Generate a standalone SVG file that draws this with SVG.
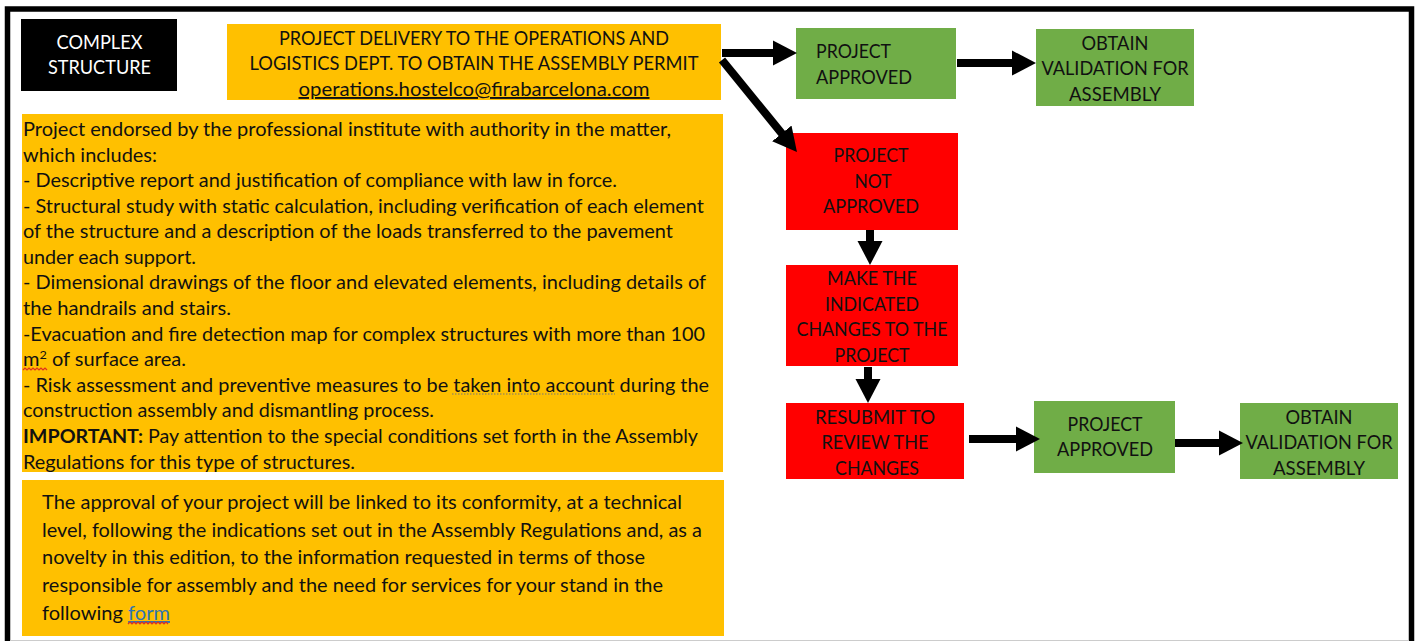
<svg xmlns="http://www.w3.org/2000/svg" width="1419" height="641" viewBox="0 0 1419 641">
<style>
text{font-family:Lato,"Liberation Sans",sans-serif;font-size:19px;fill:#111}
.c{text-anchor:middle}
.w{fill:#fff}
.o{fill:#ffc000}
.g{fill:#70ad47}
.r{fill:#ff0000}
.a{stroke:#000;stroke-width:8;fill:none;marker-end:url(#h)}
.sq{fill:none;stroke:#e03020;stroke-width:1.2}
.dot{fill:none;stroke:#777;stroke-width:1.2;stroke-dasharray:1.5 1.5}
</style>
<defs>
<marker id="h" markerUnits="userSpaceOnUse" markerWidth="26" markerHeight="26" refX="6" refY="13" orient="auto">
<path d="M0 0.500L24 13L0 25.500Z" fill="#000"/>
</marker>
</defs>
<rect width="1419" height="641" fill="#fff"/>
<rect x="7.500" y="9" width="1404" height="640" fill="none" stroke="#000" stroke-width="5.500"/>
<line x1="10" y1="640.500" x2="1409" y2="640.500" stroke="#ccc"/>
<g id="complex-structure"><rect x="21" y="19" width="156" height="72" fill="#000"/>
<text class="c w" x="99.500" y="49" textLength="86" lengthAdjust="spacingAndGlyphs">COMPLEX</text>
<text class="c w" x="99.500" y="74" textLength="103" lengthAdjust="spacingAndGlyphs">STRUCTURE</text></g>
<g id="delivery"><rect class="o" x="227" y="24" width="494" height="76"/>
<text class="c" x="474" y="45" textLength="390" lengthAdjust="spacingAndGlyphs">PROJECT DELIVERY TO THE OPERATIONS AND</text>
<text class="c" x="474" y="70" textLength="449" lengthAdjust="spacingAndGlyphs">LOGISTICS DEPT. TO OBTAIN THE ASSEMBLY PERMIT</text>
<text class="c" x="474" y="96" textLength="351" lengthAdjust="spacingAndGlyphs" text-decoration="underline">operations.hostelco@firabarcelona.com</text></g>
<g id="requirements"><rect class="o" x="22" y="114" width="701" height="358"/>
<text x="23" y="136" textLength="648" lengthAdjust="spacingAndGlyphs">Project endorsed by the professional institute with authority in the matter,</text>
<text x="23" y="162" textLength="134" lengthAdjust="spacingAndGlyphs">which includes:</text>
<text x="23" y="187" textLength="594" lengthAdjust="spacingAndGlyphs">- Descriptive report and justification of compliance with law in force.</text>
<text x="23" y="213" textLength="681" lengthAdjust="spacingAndGlyphs">- Structural study with static calculation, including verification of each element</text>
<text x="23" y="238" textLength="650" lengthAdjust="spacingAndGlyphs">of the structure and a description of the loads transferred to the pavement</text>
<text x="23" y="264" textLength="173" lengthAdjust="spacingAndGlyphs">under each support.</text>
<text x="23" y="289" textLength="683" lengthAdjust="spacingAndGlyphs">- Dimensional drawings of the floor and elevated elements, including details of</text>
<text x="23" y="315" textLength="208" lengthAdjust="spacingAndGlyphs">the handrails and stairs.</text>
<text x="23" y="341" textLength="682" lengthAdjust="spacingAndGlyphs">-Evacuation and fire detection map for complex structures with more than 100</text>
<text x="23" y="366" textLength="163" lengthAdjust="spacingAndGlyphs">m<tspan font-size="12" dy="-7">2</tspan><tspan dy="7"> of surface area.</tspan></text>
<text x="23" y="392" textLength="686" lengthAdjust="spacingAndGlyphs">- Risk assessment and preventive measures to be taken into account during the</text>
<text x="23" y="417" textLength="411" lengthAdjust="spacingAndGlyphs">construction assembly and dismantling process.</text>
<text x="23" y="443" textLength="675" lengthAdjust="spacingAndGlyphs"><tspan font-weight="700">IMPORTANT:</tspan> Pay attention to the special conditions set forth in the Assembly</text>
<text x="23" y="469" textLength="332" lengthAdjust="spacingAndGlyphs">Regulations for this type of structures.</text>
<path class="sq" d="M23 370l2-2 2 2 2-2 2 2 2-2 2 2 2-2 2 2 2-2 2 2 2-2 2 2"/>
<path class="dot" d="M452 394H615"/></g>
<g id="conformity"><rect class="o" x="22" y="480" width="702" height="156"/>
<text x="42" y="509" textLength="640" lengthAdjust="spacingAndGlyphs">The approval of your project will be linked to its conformity, at a technical</text>
<text x="42" y="537" textLength="660" lengthAdjust="spacingAndGlyphs">level, following the indications set out in the Assembly Regulations and, as a</text>
<text x="42" y="564" textLength="603" lengthAdjust="spacingAndGlyphs">novelty in this edition, to the information requested in terms of those</text>
<text x="42" y="592" textLength="621" lengthAdjust="spacingAndGlyphs">responsible for assembly and the need for services for your stand in the</text>
<text x="42" y="620" textLength="128" lengthAdjust="spacingAndGlyphs">following <tspan fill="#2e74b5" text-decoration="underline">form</tspan></text>
<path class="sq" d="M128 624l2-2 2 2 2-2 2 2 2-2 2 2 2-2 2 2 2-2 2 2 2-2 2 2 2-2 2 2 2-2 2 2 2-2 2 2 2-2 2 2"/></g>
<g id="approved-1"><rect class="g" x="796" y="28" width="160" height="71"/>
<text x="816" y="58" textLength="75" lengthAdjust="spacingAndGlyphs">PROJECT</text>
<text x="816" y="84" textLength="96" lengthAdjust="spacingAndGlyphs">APPROVED</text></g>
<g id="validation-1"><rect class="g" x="1036" y="29" width="158" height="77"/>
<text class="c" x="1115" y="50" textLength="67" lengthAdjust="spacingAndGlyphs">OBTAIN</text>
<text class="c" x="1115" y="75" textLength="147" lengthAdjust="spacingAndGlyphs">VALIDATION FOR</text>
<text class="c" x="1115" y="101" textLength="92" lengthAdjust="spacingAndGlyphs">ASSEMBLY</text></g>
<g id="not-approved"><rect class="r" x="786" y="133" width="172" height="97"/>
<text class="c" x="871" y="162" textLength="75" lengthAdjust="spacingAndGlyphs">PROJECT</text>
<text class="c" x="873" y="188" textLength="37" lengthAdjust="spacingAndGlyphs">NOT</text>
<text class="c" x="871" y="213" textLength="96" lengthAdjust="spacingAndGlyphs">APPROVED</text></g>
<g id="make-changes"><rect class="r" x="786" y="265" width="172" height="101"/>
<text class="c" x="872" y="285" textLength="90" lengthAdjust="spacingAndGlyphs">MAKE THE</text>
<text class="c" x="872" y="311" textLength="94" lengthAdjust="spacingAndGlyphs">INDICATED</text>
<text class="c" x="872" y="336" textLength="151" lengthAdjust="spacingAndGlyphs">CHANGES TO THE</text>
<text class="c" x="872" y="362" textLength="75" lengthAdjust="spacingAndGlyphs">PROJECT</text></g>
<g id="resubmit"><rect class="r" x="786" y="403" width="178" height="76"/>
<text class="c" x="875" y="424" textLength="120" lengthAdjust="spacingAndGlyphs">RESUBMIT TO</text>
<text class="c" x="875" y="449" textLength="107" lengthAdjust="spacingAndGlyphs">REVIEW THE</text>
<text class="c" x="877" y="475" textLength="84" lengthAdjust="spacingAndGlyphs">CHANGES</text></g>
<g id="approved-2"><rect class="g" x="1034" y="401" width="141" height="72"/>
<text class="c" x="1105" y="431" textLength="75" lengthAdjust="spacingAndGlyphs">PROJECT</text>
<text class="c" x="1105" y="456" textLength="96" lengthAdjust="spacingAndGlyphs">APPROVED</text></g>
<g id="validation-2"><rect class="g" x="1240" y="403" width="158" height="76"/>
<text class="c" x="1319" y="424" textLength="67" lengthAdjust="spacingAndGlyphs">OBTAIN</text>
<text class="c" x="1319" y="449" textLength="147" lengthAdjust="spacingAndGlyphs">VALIDATION FOR</text>
<text class="c" x="1319" y="475" textLength="92" lengthAdjust="spacingAndGlyphs">ASSEMBLY</text></g>
<g id="connectors">
<line class="a" x1="722" y1="53" x2="779" y2="53"/>
<line class="a" x1="722" y1="60" x2="785.600" y2="138.100"/>
<line class="a" x1="957" y1="63" x2="1018" y2="63"/>
<line class="a" x1="870" y1="230" x2="870" y2="247"/>
<line class="a" x1="868" y1="367" x2="868" y2="385"/>
<line class="a" x1="969" y1="439" x2="1022" y2="439"/>
<line class="a" x1="1175" y1="443" x2="1225" y2="443"/>
</g>
</svg>
